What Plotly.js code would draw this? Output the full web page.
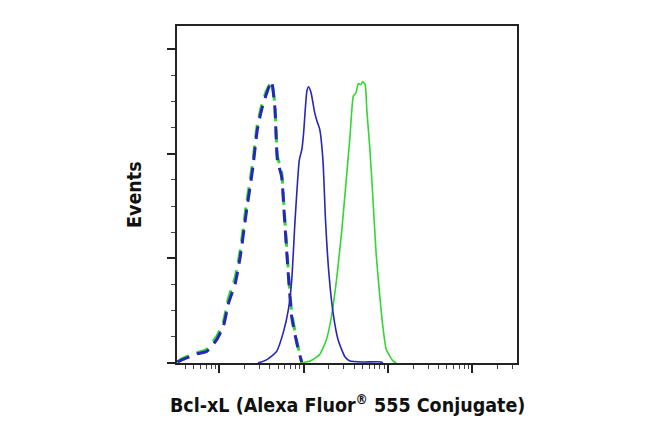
<!DOCTYPE html>
<html>
<head>
<meta charset="utf-8">
<title>Bcl-xL flow histogram</title>
<script src="https://cdn.plot.ly/plotly-3.0.1.min.js"></script>
<style>
body{margin:0;background:#fff;}
#plot{width:650px;height:438px;}
</style>
</head>
<body>
<div id="plot"></div>
<script>
// isotype control (dashed)
var isoX=[32,36,56,71,93,112,129,155,178,209,251,282,316,363,417,457,490,550,589,646,724,832,955];
var isoBlueY=[0.01,0.03,0.09,0.11,0.22,0.35,0.57,0.76,1.02,1.43,1.87,2.22,2.41,2.57,2.69,2.44,1.94,1.78,1.43,0.95,0.44,0.19,0.0];
var isoGreenY=[0.01,0.04,0.10,0.13,0.25,0.39,0.62,0.82,1.08,1.50,1.93,2.27,2.45,2.60,2.68,2.47,1.98,1.82,1.47,0.99,0.48,0.21,0.0];

// Bcl-xL antibody, two cell lines (solid)
var blueX=[288,363,479,575,661,724,794,891,955,1000,1096,1148,1230,1349,1445,1549,1698,1820,1995,2239,2570,3090,3548,5012,8318,8710];
var blueY=[0,0.03,0.11,0.29,0.51,0.79,1.37,1.94,2.04,2.19,2.60,2.64,2.58,2.40,2.31,2.24,1.94,1.37,0.86,0.48,0.22,0.06,0.02,0.01,0.01,0];
var greenX=[912,1202,1549,1862,2138,2455,2818,3162,3548,3890,4169,4467,4786,5012,5370,5623,6166,6607,7244,7943,8710,9550,11482,12589];
var greenY=[0,0.02,0.08,0.22,0.44,0.79,1.24,1.69,2.16,2.55,2.58,2.67,2.66,2.69,2.66,2.42,2.0,1.6,1.05,0.67,0.35,0.13,0.02,0];

var xTitle="Bcl-xL (Alexa Fluor<sup>®</sup> 555 Conjugate)";
var yTitle="Events";

var BLUE="rgb(38,38,185)", GREEN="rgb(52,214,52)";
var FONT="Liberation Sans Narrow, DejaVu Sans Condensed, Arial Narrow, sans-serif";

var traces=[
 {x:isoX,y:isoGreenY,mode:'lines',line:{color:GREEN,width:3,dash:'13px,8px',shape:'spline',smoothing:0.5}},
 {x:isoX,y:isoBlueY,mode:'lines',line:{color:BLUE,width:3,dash:'13px,8px',shape:'spline',smoothing:0.5}},
 {x:greenX,y:greenY,mode:'lines',line:{color:GREEN,width:1.6,shape:'spline',smoothing:0.5}},
 {x:blueX,y:blueY,mode:'lines',line:{color:BLUE,width:1.6,shape:'spline',smoothing:0.5}}
];

var layout={
 width:650,height:438,
 margin:{l:177,r:133,t:26,b:75},
 paper_bgcolor:'#fff',plot_bgcolor:'#fff',
 showlegend:false,
 xaxis:{type:'log',range:[1.5,5.53],dtick:1,showticklabels:false,
   ticks:'outside',ticklen:8,tickwidth:2,tickcolor:'#222',
   showline:true,linecolor:'#222',linewidth:2,mirror:true,
   showgrid:false,zeroline:false,
   minor:{ticks:'outside',ticklen:4,tickwidth:1,tickcolor:'#444',dtick:'D1',showgrid:false}},
 yaxis:{range:[0,3.22],dtick:1,showticklabels:false,
   ticks:'outside',ticklen:8,tickwidth:2,tickcolor:'#222',
   showline:true,linecolor:'#222',linewidth:2,mirror:true,
   showgrid:false,zeroline:false,
   minor:{ticks:'outside',ticklen:4,tickwidth:1,tickcolor:'#444',dtick:0.25,showgrid:false}},
 annotations:[
  {text:xTitle,xref:'paper',yref:'paper',x:0.5,y:0,xanchor:'center',yanchor:'top',yshift:-26,
   showarrow:false,font:{family:FONT,size:19.5,color:'#111',weight:'bold'}},
  {text:yTitle,xref:'paper',yref:'paper',x:0,y:0.5,xanchor:'right',yanchor:'middle',xshift:-29,
   textangle:-90,showarrow:false,font:{family:FONT,size:19.5,color:'#111',weight:'bold'}}
 ]
};

Plotly.newPlot('plot',traces,layout,{staticPlot:true,displayModeBar:false});
</script>
</body>
</html>
